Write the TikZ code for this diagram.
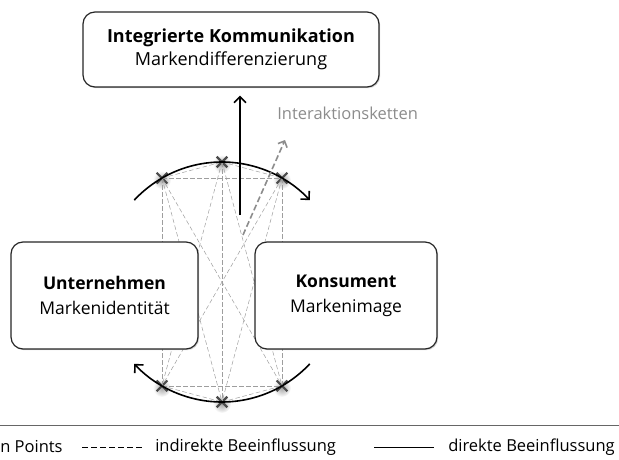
\documentclass[tikz,border=0pt]{standalone}
\usepackage{fontspec}
\setmainfont{Open Sans}
\usetikzlibrary{shapes.misc,arrows.meta,shadows,backgrounds}

\begin{document}
\begin{tikzpicture}[x=1pt,y=1pt,line width=.2mm,
    box/.style={draw=black!85, line width=1.2pt, rounded corners=12pt, fill=white,
      align=center, font=\fontsize{17.5}{25}\selectfont,
      drop shadow={shadow xshift=1.2pt, shadow yshift=-1.2pt, opacity=.35}},
    tp/.style={cross out, draw=black!70, line width=2.2pt, minimum size=8.5pt, inner sep=0pt},
    web/.style={draw=black!38, line width=.5pt, dash pattern=on 4.5pt off 2.5pt},
    flow/.style={-{Straight Barb[length=6pt,width=12pt]}, line width=1.6pt},
    legend/.style={anchor=west, inner sep=0pt, font=\fontsize{16.5}{18}\selectfont}]
  \useasboundingbox (0,0) rectangle (619,-460);
  \pgfmathsetmacro{\r}{120}

  \coordinate (ctr) at (222,-282);

  % touch points on the circle
  \node[tp] (tl) at ([shift={(120:\r)}]ctr) {};
  \node[tp] (tm) at ([shift={(90:\r)}]ctr) {};
  \node[tp] (tr) at ([shift={(60:\r)}]ctr) {};
  \node[tp] (bl) at ([shift={(-120:\r)}]ctr) {};
  \node[tp] (bm) at ([shift={(-90:\r)}]ctr) {};
  \node[tp] (br) at ([shift={(-60:\r)}]ctr) {};

  \begin{scope}[on background layer]
    \foreach \n in {tl,tm,tr,bl,bm,br}
      \shade[inner color=black!35, outer color=white] ([yshift=-2pt]\n.center) circle (9pt);
  \end{scope}

  % indirekte Beeinflussung
  \draw[web] (tl.center) -- (tm.center);
  \draw[web] (tl.center) -- (tr.center);
  \draw[web] (tm.center) -- (tr.center);
  \draw[web] (bl.center) -- (bm.center);
  \draw[web] (bl.center) -- (br.center);
  \draw[web] (bm.center) -- (br.center);
  \draw[web] (tl.center) -- (bl.center);
  \draw[web] (tl.center) -- (bm.center);
  \draw[web] (tl.center) -- (br.center);
  \draw[web] (tm.center) -- (bl.center);
  \draw[web] (tm.center) -- (bm.center);
  \draw[web] (tm.center) -- (br.center);
  \draw[web] (tr.center) -- (bl.center);
  \draw[web] (tr.center) -- (bm.center);
  \draw[web] (tr.center) -- (br.center);

  \node[box, minimum width=296pt, minimum height=75pt,
    font=\fontsize{18}{23}\selectfont] (komm) at (231,-49.5)
    {\textbf{Integrierte Kommunikation}\\Markendifferenzierung};
  \node[box, minimum width=187pt, minimum height=107pt] (untern) at (104.5,-295.5)
    {\textbf{Unternehmen}\\Markenidentität};
  \node[box, minimum width=182pt, minimum height=107pt] (kons) at (346,-295.5)
    {\textbf{Konsument}\\Markenimage};

  % rotation arrows
  \draw[flow] ([shift={(137:\r)}]ctr) arc[start angle=137, end angle=43, radius=\r];
  \draw[flow] ([shift={(-43:\r)}]ctr) arc[start angle=-43, end angle=-137, radius=\r];

  % up to communication
  \coordinate (up) at (240,-215);
  \draw[flow] (up) -- (up |- komm.south) [shorten >=8pt];

  \node[anchor=west, inner sep=0pt, text=black!45, font=\fontsize{16.5}{18}\selectfont] (ketten) at (277,-113) {Interaktionsketten};
  \coordinate (kstart) at (243,-235);
  \coordinate (kend) at (285,-140);
  \draw[-{Straight Barb[length=5pt,width=10pt]}, draw=black!45, line width=1.6pt, dash pattern=on 6pt off 3pt] (kstart) -- (kend);

  % legend
  \coordinate (la) at (0,-425);
  \coordinate (lb) at (619,-425);
  \draw[black!60, line width=1pt] (la) -- (lb);
  \node[legend] (lgtp) at (0,-447) {n Points};
  \node[legend] (lgind) at (155,-447) {indirekte Beeinflussung};
  \node[legend] (lgdir) at (448,-447) {direkte Beeinflussung};
  \draw[line width=.6pt, dash pattern=on 6pt off 3pt] ([xshift=-73pt]lgind.west) -- ([xshift=-13pt]lgind.west);
  \draw[line width=.6pt] ([xshift=-74pt]lgdir.west) -- ([xshift=-14pt]lgdir.west);
\end{tikzpicture}
\end{document}
